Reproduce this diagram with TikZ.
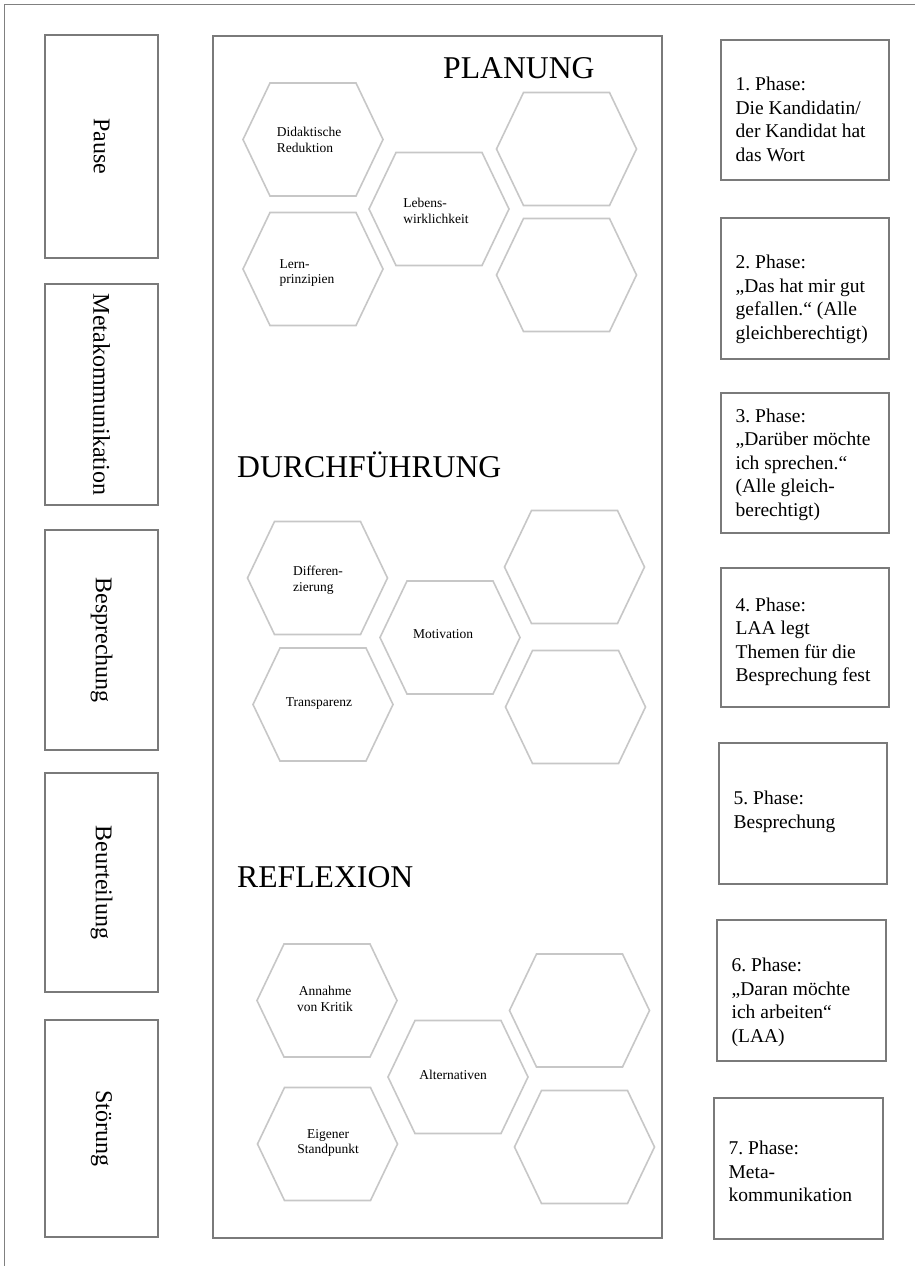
\documentclass[tikz,border=0pt]{standalone}
\usepackage{fontspec}
\setmainfont{Liberation Serif}
\frenchspacing
\newcommand{\hexcell}[3]{%
  \coordinate (#1) at (#2,#3);
  \draw[hexline, shift={(#2,#3)}] (-70,0) -- (-43,-56.5) -- (43,-56.5) -- (70,0) -- (43,56.5) -- (-43,56.5) -- cycle;
}
\begin{document}
\begin{tikzpicture}[x=1pt,y=-1pt,
  frame/.style={draw=black!50, line width=0.9pt},
  boxline/.style={draw=black!52, line width=1.1pt, inner sep=0pt},
  hexline/.style={draw=black!22, line width=1.6pt, line join=miter},
  phasetext/.style={anchor=west, align=left, inner sep=0pt, font=\fontsize{19.5}{23.5}\selectfont},
  sidetext/.style={rotate=-90, inner sep=0pt, font=\fontsize{24}{28}\selectfont},
  titletext/.style={anchor=base west, inner sep=0pt, font=\fontsize{31.7}{36}\selectfont},
  hextext/.style={inner sep=0pt, font=\fontsize{13.5}{15.5}\selectfont},
]
\useasboundingbox (0,0) rectangle (915,1266);
\fill[white] (0,0) rectangle (915,1266);
% page frame
\draw[frame] (4,1266) -- (4,4) -- (915,4);

% left column
\node[boxline, minimum width=113pt, minimum height=223pt] (L1) at (101.5,146.5) {};
\node[boxline, minimum width=113pt, minimum height=221pt] (L2) at (101.5,394.5) {};
\node[boxline, minimum width=113pt, minimum height=220pt] (L3) at (101.5,640) {};
\node[boxline, minimum width=113pt, minimum height=219pt] (L4) at (101.5,882.5) {};
\node[boxline, minimum width=113pt, minimum height=217pt] (L5) at (101.5,1128.5) {};
\node[sidetext] (l1t) at (L1.center) {Pause};
\node[sidetext] (l2t) at (L2.center) {Metakommunikation};
\node[sidetext] (l3t) at (L3.center) {Besprechung};
\node[sidetext] (l4t) at (L4.center) {Beurteilung};
\node[sidetext] (l5t) at (L5.center) {Störung};

% main box
\node[boxline, minimum width=449pt, minimum height=1202pt] (M) at (437.5,637) {};
\node[titletext] (tplan) at (443,78) {PLANUNG};
\node[titletext] (tdurch) at (237,477) {DURCHFÜHRUNG};
\node[titletext] (trefl) at (237,887) {REFLEXION};

% Planung hexagons
\hexcell{h1}{313}{139.5}
\hexcell{h2}{439}{209}
\hexcell{h3}{313}{269}
\hexcell{h4}{566.5}{149}
\hexcell{h5}{566.5}{275}
\node[hextext, align=left] (h1t) at (309,140) {Didaktische\\Reduktion};
\node[hextext, align=left] (h2t) at (436,211) {Lebens-\\wirklichkeit};
\node[hextext, align=left] (h3t) at (307,273) {Lern-\\prinzipien};

% Durchfuehrung hexagons
\hexcell{h6}{317.5}{578}
\hexcell{h7}{450}{637.5}
\hexcell{h8}{323}{704.5}
\hexcell{h9}{574.5}{567}
\hexcell{h10}{575.5}{707}
\node[hextext, align=left] (h6t) at (318,580) {Differen-\\zierung};
\node[hextext] (h7t) at (443,634) {Motivation};
\node[hextext] (h8t) at (319,704) {Transparenz};

% Reflexion hexagons
\hexcell{h11}{327}{1000.5}
\hexcell{h12}{458}{1077}
\hexcell{h13}{327.5}{1144}
\hexcell{h14}{579.5}{1010.5}
\hexcell{h15}{584.5}{1147}
\node[hextext, align=center] (h11t) at (325,999) {Annahme\\von Kritik};
\node[hextext] (h12t) at (453,1075) {Alternativen};
\node[hextext, align=center] (h13t) at (328,1143) {Eigener\\Standpunkt};

% right column
\node[boxline, minimum width=168pt, minimum height=140pt] (R1) at (805,110) {};
\node[boxline, minimum width=168pt, minimum height=141pt] (R2) at (805,288.5) {};
\node[boxline, minimum width=168pt, minimum height=140pt] (R3) at (805,463) {};
\node[boxline, minimum width=168pt, minimum height=139pt] (R4) at (805,637.5) {};
\node[boxline, minimum width=168pt, minimum height=141pt] (R5) at (803,813.5) {};
\node[boxline, minimum width=169pt, minimum height=141pt] (R6) at (801.5,990.5) {};
\node[boxline, minimum width=169pt, minimum height=141pt] (R7) at (798.5,1168.5) {};
\node[phasetext] (r1t) at ([shift={(15,9.5)}]R1.west) {1. Phase:\\Die Kandidatin/\\der Kandidat hat\\das Wort};
\node[phasetext] (r2t) at ([shift={(15,11)}]R2.west) {2. Phase:\\„Das hat mir gut\\gefallen.“ (Alle\\gleichberechtigt)};
\node[phasetext] (r3t) at ([shift={(15,1.5)}]R3.west) {3. Phase:\\„Darüber möchte\\ich sprechen.“\\(Alle gleich-\\berechtigt)};
\node[phasetext] (r4t) at ([shift={(15,4.5)}]R4.west) {4. Phase:\\LAA legt\\Themen für die\\Besprechung fest};
\node[phasetext] (r5t) at ([shift={(15,-1.5)}]R5.west) {5. Phase:\\Besprechung};
\node[phasetext] (r6t) at ([shift={(15,12)}]R6.west) {6. Phase:\\„Daran möchte\\ich arbeiten“\\(LAA)};
\node[phasetext] (r7t) at ([shift={(15,3)}]R7.west) {7. Phase:\\Meta-\\kommunikation};
\end{tikzpicture}
\end{document}
